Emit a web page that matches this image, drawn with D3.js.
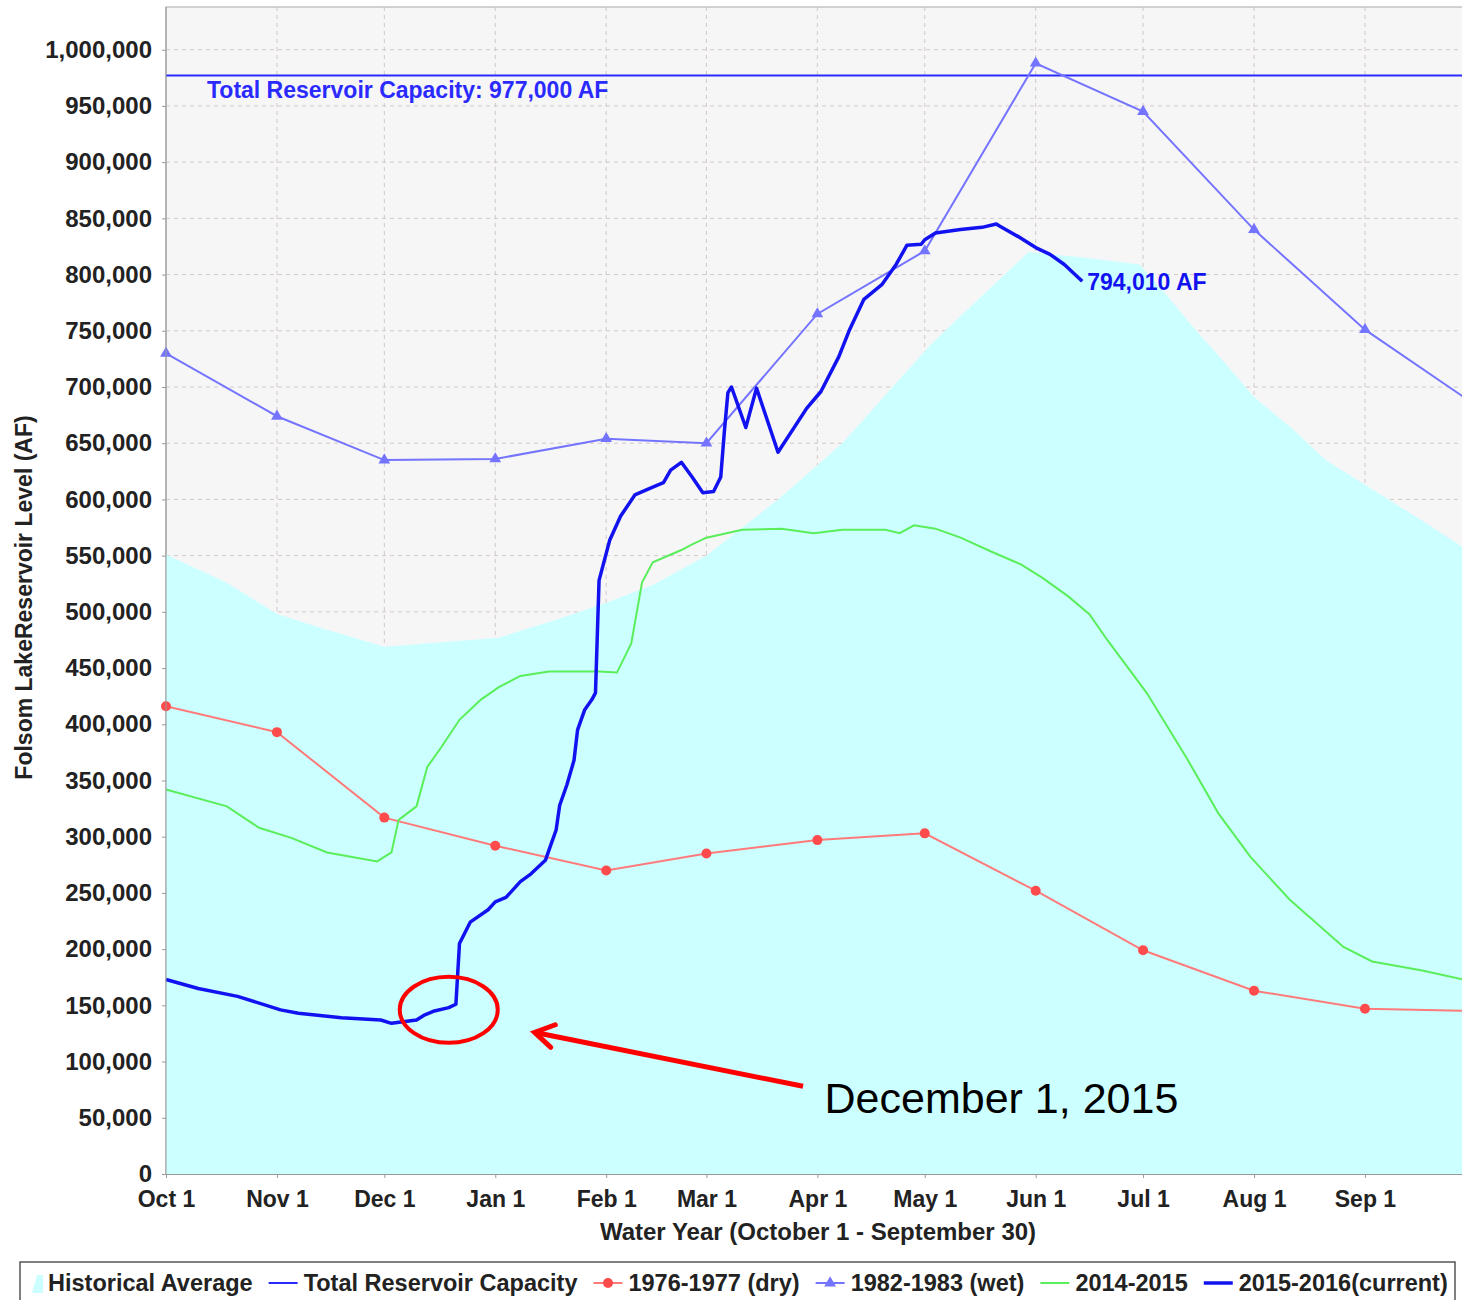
<!DOCTYPE html>
<html>
<head>
<meta charset="utf-8">
<script src="https://cdn.jsdelivr.net/npm/d3@7"></script>
<style>
body { margin: 0; background: #ffffff; }
text { font-family: "Liberation Sans", Arial, sans-serif; }
.axis text { font-size: 24px; font-weight: bold; fill: #222; }
.x.axis text { font-size: 23px; }
.axis path, .axis line { stroke: #999; }
.legend text { font-size: 23.5px; font-weight: bold; fill: #222; }
</style>
</head>
<body>
<div id="chart"></div>
<script>
let width = 1462, height = 1300;

let margin = ({top: 7, left: 166, bottom: 126});

// water year days (month-day)
let monthTicks = ["10-01", "11-01", "12-01", "01-01", "02-01", "03-01", "04-01", "05-01", "06-01", "07-01", "08-01", "09-01"];
let monthLabels = ["Oct 1", "Nov 1", "Dec 1", "Jan 1", "Feb 1", "Mar 1", "Apr 1", "May 1", "Jun 1", "Jul 1", "Aug 1", "Sep 1"];

let capacity = 977000;

let historical = [
    ["10-01", 551000], ["10-18", 526000], ["11-01", 498000], ["11-15", 484000], ["12-01", 469000],
    ["12-17", 473000], ["01-02", 477000], ["01-18", 493000], ["02-01", 508000], ["02-14", 524000],
    ["03-01", 550000], ["03-21", 600000], ["04-08", 650000], ["04-22", 700000], ["05-03", 739000],
    ["05-16", 778000], ["05-30", 820000], ["06-15", 815000], ["06-30", 809000], ["07-07", 784000],
    ["07-14", 757000], ["07-24", 721000], ["08-01", 691000], ["08-12", 662000], ["08-21", 635000],
    ["08-31", 615000], ["09-09", 597000], ["09-18", 579000], ["09-30", 554000]
];

let dry = [
    ["10-01", 416000], ["11-01", 393000], ["12-01", 317000], ["01-01", 292000], ["02-01", 270000],
    ["03-01", 285000], ["04-01", 297000], ["05-01", 303000], ["06-01", 252000], ["07-01", 199000],
    ["08-01", 163000], ["09-01", 147000], ["09-30", 145000]
];

let wet = [
    ["10-01", 730000], ["11-01", 674000], ["12-01", 635000], ["01-01", 636000], ["02-01", 654000],
    ["03-01", 650000], ["04-01", 765000], ["05-01", 821000], ["06-01", 988000], ["07-01", 945000],
    ["08-01", 840000], ["09-01", 751000], ["09-30", 688000]
];

let lastYear = [
    ["10-01", 342000], ["10-18", 327000], ["10-27", 308000], ["11-05", 299000], ["11-15", 286000],
    ["11-29", 278000], ["12-03", 286000], ["12-05", 315000], ["12-10", 327000], ["12-13", 362000],
    ["12-17", 380000], ["12-22", 404000], ["12-28", 422000], ["01-02", 433000], ["01-08", 443000],
    ["01-16", 447000], ["01-30", 447000], ["02-04", 446000], ["02-08", 472000], ["02-11", 526000],
    ["02-14", 544000], ["02-22", 555000], ["02-25", 560000], ["03-01", 566000], ["03-11", 573000],
    ["03-22", 574000], ["03-31", 570000], ["04-08", 573000], ["04-20", 573000], ["04-24", 570000],
    ["04-28", 577000], ["05-04", 574000], ["05-11", 566000], ["05-20", 553000], ["05-28", 542000],
    ["06-03", 530000], ["06-10", 514000], ["06-16", 498000], ["06-21", 475000], ["07-02", 428000],
    ["07-13", 371000], ["07-22", 321000], ["07-31", 282000], ["08-11", 244000], ["08-26", 202000],
    ["09-03", 189000], ["09-17", 181000], ["09-30", 172000]
];

let current = [
    ["10-01", 173000], ["10-10", 165000], ["10-21", 158000], ["11-02", 146000], ["11-07", 143000],
    ["11-19", 139000], ["11-30", 137000], ["12-03", 134000], ["12-10", 137000], ["12-12", 141000],
    ["12-15", 145000], ["12-19", 148000], ["12-21", 151000], ["12-22", 205000], ["12-25", 224000],
    ["12-30", 235000], ["01-01", 242000], ["01-04", 246000], ["01-08", 260000], ["01-11", 267000],
    ["01-15", 279000], ["01-16", 288000], ["01-18", 306000], ["01-19", 328000], ["01-21", 346000],
    ["01-23", 368000], ["01-24", 395000], ["01-26", 413000], ["01-28", 422000], ["01-29", 428000],
    ["01-30", 528000], ["02-02", 564000], ["02-05", 585000], ["02-09", 604000], ["02-14", 611000],
    ["02-17", 615000], ["02-19", 626000], ["02-22", 633000], ["02-25", 620000], ["02-28", 606000],
    ["03-03", 607000], ["03-05", 620000], ["03-06", 660000], ["03-07", 695000], ["03-08", 700000],
    ["03-12", 664000], ["03-15", 699000], ["03-17", 680000], ["03-21", 642000], ["03-29", 681000],
    ["04-02", 696000], ["04-07", 727000], ["04-10", 751000], ["04-14", 778000], ["04-19", 791000],
    ["04-23", 809000], ["04-26", 826000], ["04-30", 827000], ["05-01", 831000], ["05-04", 837000],
    ["05-11", 840000], ["05-17", 842000], ["05-21", 845000], ["05-22", 843000], ["05-27", 834000],
    ["06-01", 824000], ["06-05", 818000], ["06-09", 809000], ["06-14", 794010]
];

let legendItems = ["Historical Average", "Total Reservoir Capacity", "1976-1977 (dry)", "1982-1983 (wet)", "2014-2015", "2015-2016(current)"];

let colors = ({
    plot: "#f6f6f7", area: "#ccffff", grid: "#d2c8c8", capacity: "#2a2aff",
    dry: "#ff7a7a", dryDot: "#ff4b4b", wet: "#7474ff", green: "#5aee5a", current: "#1212f0"
});

// month-day -> date inside a non-leap water year
function parseDay(s) {
    let m = +s.split("-")[0], d = +s.split("-")[1];
    return new Date(Date.UTC(m >= 10 ? 2014 : 2015, m - 1, d));
}

function toPoints(arr) {
    return arr.map(function(d) { return {date: parseDay(d[0]), value: d[1]}; });
}

let xScale = d3.scaleUtc()
    .domain([parseDay("10-01"), new Date(Date.UTC(2015, 9, 1))])
    .range([margin.left, margin.left + 365 * 3.579]);

let yScale = d3.scaleLinear()
    .domain([0, 1038000])
    .range([height - margin.bottom, margin.top]);

let svg = d3.select("#chart")
    .append("svg")
    .attr("width", width)
    .attr("height", height);

let plotRight = xScale.range()[1];
let plotBottom = yScale(0);

svg.append("rect")
    .attr("x", margin.left)
    .attr("y", margin.top)
    .attr("width", plotRight - margin.left)
    .attr("height", plotBottom - margin.top)
    .attr("fill", colors.plot)
    .attr("stroke", "#a8a8a8");

// grid
let yTicks = d3.range(0, 1000001, 50000);

svg.append("g")
    .selectAll("line")
    .data(yTicks.slice(1))
    .enter()
    .append("line")
    .attr("x1", margin.left)
    .attr("x2", plotRight)
    .attr("y1", function(d) { return yScale(d); })
    .attr("y2", function(d) { return yScale(d); })
    .attr("stroke", colors.grid)
    .attr("stroke-dasharray", "4,4");

svg.append("g")
    .selectAll("line")
    .data(monthTicks.slice(1))
    .enter()
    .append("line")
    .attr("x1", function(d) { return xScale(parseDay(d)); })
    .attr("x2", function(d) { return xScale(parseDay(d)); })
    .attr("y1", margin.top)
    .attr("y2", plotBottom)
    .attr("stroke", colors.grid)
    .attr("stroke-dasharray", "4,4");

// historical average
let area = d3.area()
    .x(function(d) { return xScale(d.date); })
    .y0(plotBottom)
    .y1(function(d) { return yScale(d.value); });

svg.append("path")
    .datum(toPoints(historical))
    .attr("d", area)
    .attr("fill", colors.area);

// capacity
svg.append("line")
    .attr("x1", margin.left)
    .attr("x2", plotRight)
    .attr("y1", yScale(capacity))
    .attr("y2", yScale(capacity))
    .attr("stroke", colors.capacity)
    .attr("stroke-width", 2);

svg.append("text")
    .attr("x", margin.left + 41)
    .attr("y", yScale(capacity) + 22)
    .attr("font-size", 23)
    .attr("font-weight", "bold")
    .attr("fill", colors.capacity)
    .text("Total Reservoir Capacity: " + d3.format(",")(capacity) + " AF");

let line = d3.line()
    .x(function(d) { return xScale(d.date); })
    .y(function(d) { return yScale(d.value); });

// dry
let dryData = toPoints(dry);
svg.append("path")
    .datum(dryData)
    .attr("d", line)
    .attr("fill", "none")
    .attr("stroke", colors.dry)
    .attr("stroke-width", 2);

svg.append("g")
    .selectAll("circle")
    .data(dryData)
    .enter()
    .append("circle")
    .attr("cx", function(d) { return xScale(d.date); })
    .attr("cy", function(d) { return yScale(d.value); })
    .attr("r", 5)
    .attr("fill", colors.dryDot);

// wet
let wetData = toPoints(wet);
svg.append("path")
    .datum(wetData)
    .attr("d", line)
    .attr("fill", "none")
    .attr("stroke", colors.wet)
    .attr("stroke-width", 2);

let triangle = d3.symbol().type(d3.symbolTriangle).size(60);

svg.append("g")
    .selectAll("path")
    .data(wetData)
    .enter()
    .append("path")
    .attr("d", triangle)
    .attr("transform", function(d) { return "translate(" + xScale(d.date) + "," + yScale(d.value) + ")"; })
    .attr("fill", colors.wet);

// 2014-2015
svg.append("path")
    .datum(toPoints(lastYear))
    .attr("d", line)
    .attr("fill", "none")
    .attr("stroke", colors.green)
    .attr("stroke-width", 2);

// current
let currentData = toPoints(current);
svg.append("path")
    .datum(currentData)
    .attr("d", line)
    .attr("fill", "none")
    .attr("stroke", colors.current)
    .attr("stroke-width", 3.5)
    .attr("stroke-linejoin", "round");

let last = currentData[currentData.length - 1];
svg.append("text")
    .attr("x", xScale(last.date) + 5)
    .attr("y", yScale(last.value) + 9)
    .attr("font-size", 23)
    .attr("font-weight", "bold")
    .attr("fill", colors.current)
    .text(d3.format(",")(last.value) + " AF");

// axes
let yAxis = d3.axisLeft(yScale)
    .tickValues(yTicks)
    .tickFormat(d3.format(","))
    .tickSizeInner(4)
    .tickSizeOuter(0)
    .tickPadding(10);

let xAxis = d3.axisBottom(xScale)
    .tickValues(monthTicks.map(parseDay))
    .tickFormat(function(d, i) { return monthLabels[i]; })
    .tickSizeInner(4)
    .tickSizeOuter(0)
    .tickPadding(13);

svg.append("g")
    .attr("class", "y axis")
    .attr("transform", "translate(" + margin.left + ",0)")
    .call(yAxis)
    .select(".domain").attr("d", "M0," + margin.top + "V" + plotBottom);

svg.append("g")
    .attr("class", "x axis")
    .attr("transform", "translate(0," + plotBottom + ")")
    .call(xAxis);

svg.append("text")
    .attr("transform", "translate(32," + ((margin.top + plotBottom) / 2 + 7) + ") rotate(-90)")
    .attr("text-anchor", "middle")
    .attr("font-size", 23)
    .attr("font-weight", "bold")
    .attr("fill", "#222")
    .text("Folsom LakeReservoir Level (AF)");

svg.append("text")
    .attr("x", 818)
    .attr("y", 1240)
    .attr("text-anchor", "middle")
    .attr("font-size", 24)
    .attr("font-weight", "bold")
    .attr("fill", "#222")
    .text("Water Year (October 1 - September 30)");

// legend
let legend = svg.append("g").attr("class", "legend");

legend.append("rect")
    .attr("x", 20)
    .attr("y", 1262)
    .attr("width", 1435)
    .attr("height", 60)
    .attr("fill", "#ffffff")
    .attr("stroke", "#555")
    .attr("stroke-width", 1.5);

let lx = 30, ly = 1283;
legendItems.forEach(function(label, i) {
    let g = legend.append("g");
    let textX;
    if (i === 0) {
        g.append("path")
            .attr("d", "M" + (lx + 2) + "," + (ly + 10) + "L" + (lx + 7) + "," + (ly - 8) + "L" + (lx + 13) + "," + (ly - 8) + "L" + (lx + 13) + "," + (ly + 10) + "Z")
            .attr("fill", colors.area);
        textX = lx + 18;
    } else {
        let stroke = [null, colors.capacity, colors.dry, colors.wet, colors.green, colors.current][i];
        g.append("line")
            .attr("x1", lx).attr("x2", lx + 29)
            .attr("y1", ly).attr("y2", ly)
            .attr("stroke", stroke)
            .attr("stroke-width", i === 5 ? 3.5 : 2);
        if (i === 2) {
            g.append("circle").attr("cx", lx + 14.5).attr("cy", ly).attr("r", 5).attr("fill", colors.dryDot);
        }
        if (i === 3) {
            g.append("path").attr("d", triangle).attr("transform", "translate(" + (lx + 14.5) + "," + ly + ")").attr("fill", colors.wet);
        }
        textX = lx + 35;
    }
    let t = g.append("text")
        .attr("x", textX)
        .attr("y", ly + 8)
        .text(label);
    lx = textX + t.node().getComputedTextLength() + 16;
});

// annotation
let note = ({circle: ["12-19", 146000], tip: ["01-12", 126000], tail: ["03-28", 78000], text: ["04-03", 54000]});

svg.append("ellipse")
    .attr("cx", xScale(parseDay(note.circle[0])))
    .attr("cy", yScale(note.circle[1]))
    .attr("rx", 49)
    .attr("ry", 33)
    .attr("fill", "none")
    .attr("stroke", "#ff0000")
    .attr("stroke-width", 4);

let tipX = xScale(parseDay(note.tip[0])), tipY = yScale(note.tip[1]);
let tailX = xScale(parseDay(note.tail[0])), tailY = yScale(note.tail[1]);
let ang = Math.atan2(tailY - tipY, tailX - tipX);

svg.append("line")
    .attr("x1", tailX).attr("y1", tailY)
    .attr("x2", tipX + 2 * Math.cos(ang)).attr("y2", tipY + 2 * Math.sin(ang))
    .attr("stroke", "#ff0000")
    .attr("stroke-width", 5);

svg.append("path")
    .attr("d", "M" + (tipX + 22 * Math.cos(ang - 0.55)) + "," + (tipY + 22 * Math.sin(ang - 0.55)) +
        "L" + tipX + "," + tipY +
        "L" + (tipX + 22 * Math.cos(ang + 0.55)) + "," + (tipY + 22 * Math.sin(ang + 0.55)))
    .attr("fill", "none")
    .attr("stroke", "#ff0000")
    .attr("stroke-width", 5)
    .attr("stroke-linecap", "round");

svg.append("text")
    .attr("x", xScale(parseDay(note.text[0])))
    .attr("y", yScale(note.text[1]))
    .attr("font-family", "Lato, 'Open Sans', sans-serif")
    .attr("font-size", 43)
    .attr("fill", "#000")
    .text("December 1, 2015");
</script>
</body>
</html>
